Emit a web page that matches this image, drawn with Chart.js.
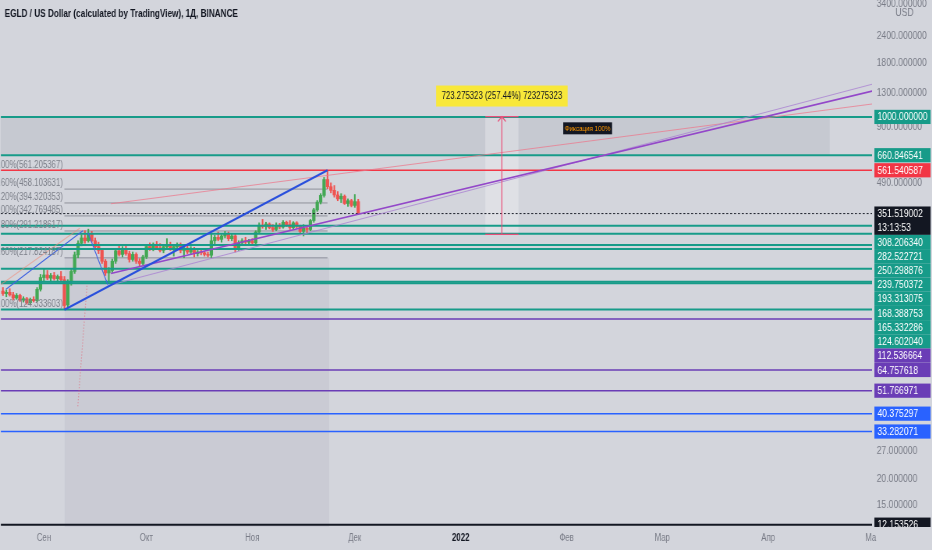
<!DOCTYPE html>
<html>
<head>
<meta charset="utf-8">
<script src="https://cdn.jsdelivr.net/npm/chart.js@4.4.1/dist/chart.umd.min.js"></script>
<style>
html, body { margin: 0; padding: 0; background: #d3d5dc; overflow: hidden; }
#frame { width: 932px; height: 550px; overflow: hidden; }
/* the screenshot uses a condensed look: draw wide, squeeze horizontally */
#wrap { width: 1195px; height: 550px; transform: scaleX(0.78); transform-origin: 0 0; }
</style>
</head>
<body>
<div id="frame"><div id="wrap"><canvas id="chart"></canvas></div></div>
<script>
const K = 0.78;

// day 0 = 1 Sep 2021, first candle = 20 Aug
const firstDay = -12;
const opens = [152,148,150,146,141,145,138,140,134,139,137,155,176,181,175,180,174,178,172,131,168,188,225,255,270,262,284,262,246,236,210,185,190,210,235,226,240,228,214,226,210,205,220,246,240,250,242,236,246,252,240,246,250,236,242,232,240,228,232,230,226,224,262,272,266,276,284,268,276,240,256,262,258,262,256,288,310,306,314,302,296,310,304,320,312,302,318,306,290,300,296,326,366,398,428,508,470,452,430,412,424,392,404,384,400];
const highs = [158,154,156,150,148,147,143,142,141,143,158,182,192,190,184,186,181,188,178,172,192,232,262,280,292,297,290,270,258,240,214,196,215,240,252,246,250,234,232,230,216,224,250,256,256,260,254,250,268,258,252,256,256,246,248,246,244,236,238,234,232,282,278,288,280,290,288,282,284,262,268,272,266,268,292,318,330,320,318,312,318,316,326,324,326,322,322,310,312,306,330,372,405,436,520,561,490,476,446,436,430,412,410,432,410];
const lows = [145,143,144,138,139,136,135,132,131,135,135,152,170,172,170,171,168,170,124.3,127,162,184,218,248,255,258,258,240,228,205,180,166,186,205,222,220,224,208,210,205,200,202,216,236,235,238,232,230,240,236,222,240,230,218,228,226,220,222,225,222,220,218,250,262,258,270,262,262,232,236,250,254,252,250,254,284,300,296,298,290,292,298,300,306,296,298,300,282,276,286,292,320,360,390,420,460,440,420,404,396,388,380,378,376,348];
const closes = [148,150,146,141,145,138,140,134,139,137,155,176,181,175,180,174,178,172,130,168,188,225,255,270,262,284,262,246,236,210,185,190,210,235,226,240,228,214,226,210,205,220,246,240,250,242,236,246,252,240,246,250,236,242,232,240,228,232,230,226,224,262,272,266,276,284,268,276,240,256,262,258,262,256,288,310,306,314,302,296,310,304,320,312,302,318,306,290,300,296,326,366,398,428,508,470,452,430,412,424,392,404,384,400,351.52];

const monthTicks = [0, 30, 61, 91, 122, 153, 181, 212, 242];
const monthLabels = ['Сен', 'Окт', 'Ноя', 'Дек', '2022', 'Фев', 'Мар', 'Апр', 'Ма'];
const priceTicks = [3400, 2400, 1800, 1300, 900, 490, 27, 20, 15];

// horizontal levels with their price-axis labels
const levelValues = [1000, 660.846541, 561.540587, 351.519002, 308.206340, 282.522721, 250.298876, 239.750372, 193.313075, 168.388753, 165.332286, 124.602040, 112.536664, 64.757618, 51.766971, 40.375297, 33.282071, 12.153526];
const levelKinds = ['teal', 'teal', 'red', 'last', 'teal', 'teal', 'teal', 'teal', 'teal', 'teal', 'teal', 'teal', 'purple', 'purple', 'purple', 'blue', 'blue', 'black'];
const countdown = '13:13:53';

// fibonacci retracement
const fibValues = [561.205367, 458.103631, 394.320353, 342.769485, 291.218617, 217.824187, 124.333603];
const fibLevels = ['0.00%', '23.60%', '38.20%', '50.00%', '61.80%', '78.60%', '100.00%'];
const fibFrom = 6, fibTo = 83;

// trend lines [day, price]
const blueTrend = [[6, 124.333603], [83, 561.205367]];
const thinBlueUp = [[-11.1, 155], [11.4, 292]];
const thinBlueDown = [[12.9, 286], [18.7, 163]];
const faintRay = [[-12.6, 163], [10.5, 300]];
const purpleTrend = [[19.6, 184], [242.7, 1325]];
const lavenderTrend = [[18.7, 161], [242.7, 1429]];
const pinkTrend = [[19.6, 391], [242.7, 1151]];
const pinkDotted = [[12.6, 161], [9.9, 43.3]];

// boxes and notes
const rangeBox = { from: -12.6, to: 230, high: 1000, low: 660.846541 };
const shadeBox = { from: 6.1, to: 83.5, top: 217.824187 };
const measure = { from: 129.2, to: 138.9, low: 280.95, high: 1004.23, text: '723.275323 (257.44%) 723275323' };
const note = { day: 152, price: 884, text: 'Фиксация 100%' };
const title = 'EGLD / US Dollar (calculated by TradingView), 1Д, BINANCE';

const font = '"Liberation Sans", Arial, sans-serif';
const colors = { teal: '#179b89', red: '#f23645', purple: '#6a3db6', blue: '#2962ff', black: '#131722', last: '#131722' };
const upColor = '#43a854', downColor = '#ef5350';

const days = opens.map((o, i) => firstDay + i);
const candleColors = opens.map((o, i) => closes[i] >= o ? upColor : downColor);

function seg(points, color, width, dash, order) {
    return {
        type: 'line', data: points.map(p => ({ x: p[0], y: p[1] })),
        borderColor: color, borderWidth: width, borderDash: dash || [],
        pointRadius: 0, tension: 0, fill: false, order: order
    };
}

const datasets = [];
// drawings on top
datasets.push(seg(blueTrend, '#2a50dc', 2.2, null, 0));
datasets.push(seg(thinBlueUp, '#3f63e0', 1.1, null, 0));
datasets.push(seg(thinBlueDown, '#3f63e0', 1.1, null, 0));
datasets.push(seg(faintRay, 'rgba(240,140,120,0.6)', 1.1, null, 0));
datasets.push(seg(purpleTrend, '#9347c9', 1.6, null, 0));
datasets.push(seg(lavenderTrend, 'rgba(170,130,210,0.8)', 1.1, null, 0));
datasets.push(seg(pinkTrend, 'rgba(236,120,140,0.75)', 1.1, null, 0));
datasets.push(seg(pinkDotted, 'rgba(230,90,110,0.7)', 1.2, [1, 2], 0));

levelValues.forEach((v, i) => {
    const k = levelKinds[i];
    if (k === 'last') {
        datasets.push(seg([[-12.6, v], [242.4, v]], '#131722', 1, [2.5, 2.5], 1));
    } else {
        const w = k === 'teal' ? 2 : (k === 'black' ? 2 : 1.5);
        datasets.push(seg([[-12.6, v], [242.4, v]], colors[k], w, null, 1));
    }
});

fibValues.forEach(v => {
    datasets.push(seg([[fibFrom, v], [fibTo, v]], 'rgba(120,123,134,0.75)', 1, null, 4));
});

// candles: wicks + bodies as floating bars
datasets.push({
    type: 'bar', grouped: false, order: 3,
    data: days.map((d, i) => ({ x: d, y: [lows[i], highs[i]] })),
    backgroundColor: candleColors, barThickness: 1.4
});
datasets.push({
    type: 'bar', grouped: false, order: 2,
    data: days.map((d, i) => ({ x: d, y: [opens[i], closes[i]] })),
    backgroundColor: candleColors, barThickness: 3.6
});

const decor = {
    id: 'decor',
    beforeDatasetsDraw(chart) {
        const { ctx, scales: { x, y }, chartArea: a } = chart;
        ctx.save();
        // range box
        ctx.fillStyle = 'rgba(110,114,128,0.12)';
        ctx.fillRect(x.getPixelForValue(rangeBox.from), y.getPixelForValue(rangeBox.high),
            x.getPixelForValue(rangeBox.to) - x.getPixelForValue(rangeBox.from),
            y.getPixelForValue(rangeBox.low) - y.getPixelForValue(rangeBox.high));
        // shaded period
        ctx.fillStyle = 'rgba(110,114,128,0.09)';
        const sx = x.getPixelForValue(shadeBox.from), sy = y.getPixelForValue(shadeBox.top);
        ctx.fillRect(sx, sy, x.getPixelForValue(shadeBox.to) - sx, a.bottom - sy);
        // measure box
        const mx1 = x.getPixelForValue(measure.from), mx2 = x.getPixelForValue(measure.to);
        const my1 = y.getPixelForValue(measure.high), my2 = y.getPixelForValue(measure.low);
        ctx.fillStyle = 'rgba(255,255,255,0.28)';
        ctx.fillRect(mx1, my1, mx2 - mx1, my2 - my1);
        ctx.restore();
    },
    afterDatasetsDraw(chart) {
        const { ctx, scales: { x, y } } = chart;
        ctx.save();
        // fib labels
        ctx.font = '10px ' + font;
        ctx.fillStyle = '#7d808a';
        ctx.textAlign = 'right';
        ctx.textBaseline = 'bottom';
        const fx = x.getPixelForValue(fibFrom) - 2;
        fibValues.forEach((v, i) => {
            ctx.fillText(fibLevels[i] + '(' + v.toFixed(6) + ')', fx, y.getPixelForValue(v) - 0.5);
        });
        // measure arrow
        const mx1 = x.getPixelForValue(measure.from), mx2 = x.getPixelForValue(measure.to);
        const mc = x.getPixelForValue((measure.from + measure.to) / 2);
        const my1 = y.getPixelForValue(measure.high), my2 = y.getPixelForValue(measure.low);
        ctx.strokeStyle = '#e8507a';
        ctx.lineWidth = 1.2;
        ctx.beginPath();
        ctx.moveTo(mx1, my1); ctx.lineTo(mx2, my1);
        ctx.moveTo(mx1, my2); ctx.lineTo(mx2, my2);
        ctx.moveTo(mc, my2); ctx.lineTo(mc, my1);
        ctx.moveTo(mc - 5, my1 + 5); ctx.lineTo(mc, my1); ctx.lineTo(mc + 5, my1 + 5);
        ctx.stroke();
        // measure label
        ctx.font = '10px ' + font;
        const tw = ctx.measureText(measure.text).width + 14;
        ctx.fillStyle = '#f8e83a';
        ctx.fillRect(mc - tw / 2, my1 - 31, tw, 21);
        ctx.fillStyle = '#131722';
        ctx.textAlign = 'center';
        ctx.textBaseline = 'middle';
        ctx.fillText(measure.text, mc, my1 - 20.5);
        // note
        ctx.font = '8px ' + font;
        const nx = x.getPixelForValue(note.day), ny = y.getPixelForValue(note.price);
        const nw = ctx.measureText(note.text).width + 4;
        ctx.fillStyle = '#131722';
        ctx.fillRect(nx, ny - 6, nw, 12);
        ctx.fillStyle = '#ff9800';
        ctx.textAlign = 'left';
        ctx.fillText(note.text, nx + 2, ny);
        // title
        ctx.font = 'bold 10.5px ' + font;
        ctx.fillStyle = '#131722';
        ctx.textBaseline = 'middle';
        ctx.fillText(title, 6, 14);
        ctx.restore();
    },
    afterDraw(chart) {
        const { ctx, scales: { y }, chartArea: a } = chart;
        ctx.save();
        ctx.beginPath();
        ctx.rect(a.right, 0, chart.width - a.right, a.bottom);
        ctx.clip();
        ctx.font = '11px ' + font;
        ctx.textBaseline = 'middle';
        ctx.textAlign = 'left';
        ctx.fillStyle = '#787b86';
        ctx.fillText('USD', a.right + 30, 13);
        const h = 14.2;
        let prevBottom = -Infinity;
        levelValues.forEach((v, i) => {
            const k = levelKinds[i];
            const rows = k === 'last' ? 2 : 1;
            const top = Math.max(y.getPixelForValue(v) - h / 2, prevBottom);
            ctx.fillStyle = colors[k];
            ctx.fillRect(a.right + 3, top, 72, h * rows);
            ctx.fillStyle = '#ffffff';
            ctx.fillText(v.toFixed(6), a.right + 7, top + h / 2 + 0.5);
            if (rows === 2) ctx.fillText(countdown, a.right + 7, top + h * 1.5 + 0.5);
            prevBottom = top + h * rows;
        });
        ctx.restore();
    }
};

new Chart(document.getElementById('chart'), {
    type: 'bar',
    data: { datasets: datasets },
    options: {
        responsive: true,
        maintainAspectRatio: false,
        animation: false,
        layout: { padding: 0 },
        plugins: { legend: { display: false }, tooltip: { enabled: false } },
        scales: {
            x: {
                type: 'linear', min: -12.6, max: 242.4, offset: false,
                grid: { display: false, drawTicks: false }, border: { display: false },
                afterBuildTicks: s => { s.ticks = monthTicks.map(v => ({ value: v })); },
                afterFit: s => { s.height = 23; s.paddingLeft = 0; s.paddingRight = 0; },
                ticks: {
                    autoSkip: false, maxRotation: 0, padding: 5,
                    color: ctx => ctx.tick && ctx.tick.value === 122 ? '#131722' : '#787b86',
                    font: ctx => ({ family: font, size: 10, weight: ctx.tick && ctx.tick.value === 122 ? 'bold' : 'normal' }),
                    callback: v => monthLabels[monthTicks.indexOf(v)]
                }
            },
            y: {
                type: 'logarithmic', position: 'right', min: 11.85, max: 3500,
                grid: { display: false, drawTicks: false }, border: { display: false },
                afterBuildTicks: s => { s.ticks = priceTicks.map(v => ({ value: v })); },
                afterFit: s => { s.width = 77; s.paddingTop = 0; s.paddingBottom = 0; },
                ticks: {
                    autoSkip: false, padding: 6, color: '#787b86',
                    font: { family: font, size: 11 },
                    callback: v => Number(v).toFixed(6)
                }
            }
        }
    },
    plugins: [decor]
});
</script>
</body>
</html>
